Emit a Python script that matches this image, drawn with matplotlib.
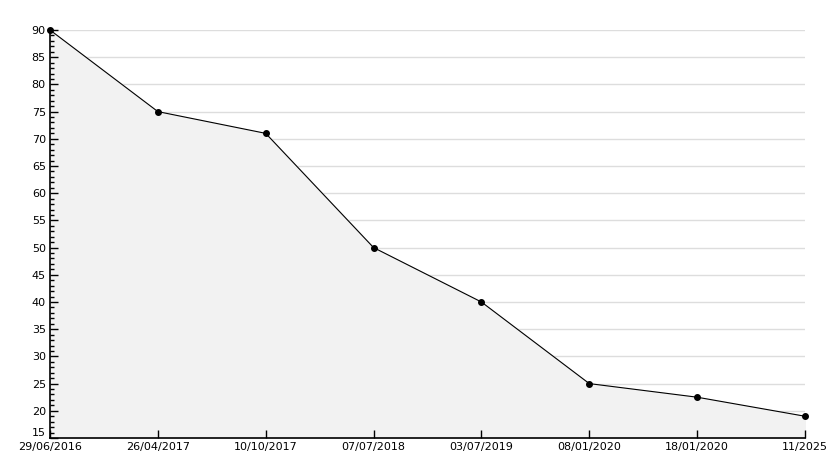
import numpy as np
import matplotlib.pyplot as plt
from matplotlib.ticker import MultipleLocator

dates = ["29/06/2016", "26/04/2017", "10/10/2017", "07/07/2018",
         "03/07/2019", "08/01/2020", "18/01/2020", "11/2025"]
values = [90, 75, 71, 50, 40, 25, 22.5, 19]
yticks = list(range(15, 95, 5))

W, H = 834, 468
fig = plt.figure(figsize=(W / 100, H / 100), dpi=100)
ax = fig.add_axes([50 / W, 30 / H, 755 / W, 408 / H])

x = np.arange(len(dates))
ax.fill_between(x, values, 15, color="#f2f2f2", zorder=1)
ax.plot(x, values, color="black", linewidth=0.8, marker="o", markersize=4,
        zorder=3, clip_on=False)

ax.set_xlim(0, len(dates) - 1)
ax.set_ylim(15, 90)
ax.set_xticks(x)
ax.set_xticklabels(dates)
ax.set_yticks(yticks)
ax.set_yticklabels([str(v) for v in yticks])
ax.yaxis.set_minor_locator(MultipleLocator(1))

for v in yticks[1:]:
    ax.axhline(v, color="#dddddd", linewidth=1, zorder=0)

for s in ["top", "right"]:
    ax.spines[s].set_visible(False)
ax.spines["left"].set_linewidth(1.2)
ax.spines["bottom"].set_linewidth(1.2)

ax.tick_params(axis="y", which="major", direction="in", length=6, width=1, labelsize=8, pad=3)
ax.tick_params(axis="y", which="minor", direction="in", length=3, width=1)
ax.tick_params(axis="x", direction="in", length=6, width=1, labelsize=8, pad=3)
ax.set_facecolor("white")

# lift the bottom "15" so it clears the first date label
ax.get_yticklabels()[0].set_verticalalignment("bottom")

fig.savefig("out.png", dpi=100)
